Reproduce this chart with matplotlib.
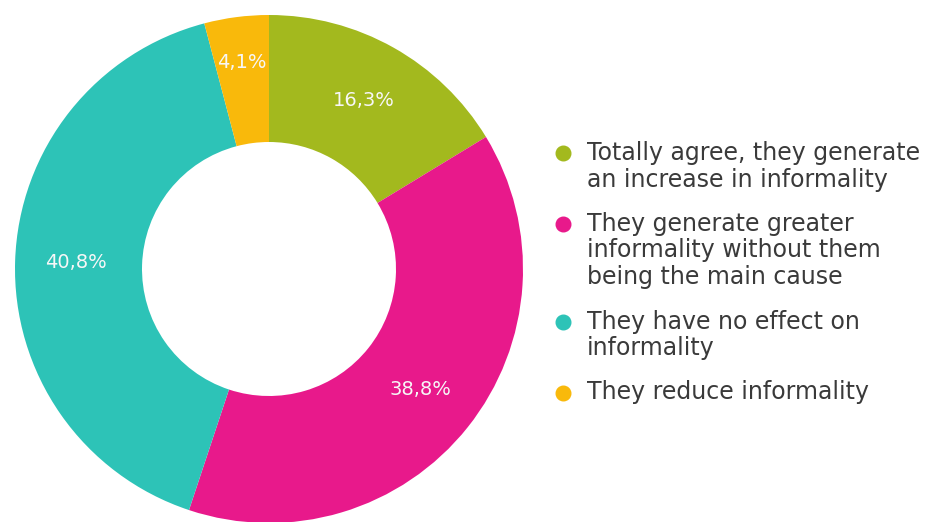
import numpy as np
import matplotlib
matplotlib.use("Agg")
import matplotlib.pyplot as plt
from matplotlib.lines import Line2D

# Respuestas a la pregunta sobre informalidad
etiquetas = [
    "Totally agree, they generate\nan increase in informality",
    "They generate greater\ninformality without them\nbeing the main cause",
    "They have no effect on\ninformality",
    "They reduce informality",
]
porcentajes = [16.3, 38.8, 40.8, 4.1]
textos_pct = ["16,3%", "38,8%", "40,8%", "4,1%"]
colores = ["#A3B91E", "#E8198B", "#2DC3B7", "#F9B90B"]

W, H = 926, 522
fig = plt.figure(figsize=(W / 100, H / 100), dpi=100)
fig.patch.set_facecolor("white")

# Dona: centro (269, 269) px, radio 254 px
cx, cy, r = 269, 269, 254
ax = fig.add_axes([(cx - r) / W, (H - cy - r) / H, 2 * r / W, 2 * r / H])
wedges, _ = ax.pie(porcentajes, colors=colores, startangle=90, counterclock=False,
                   radius=1.0, wedgeprops=dict(width=0.5, linewidth=0))
ax.set_xlim(-1, 1)
ax.set_ylim(-1, 1)
ax.set_aspect("equal")
ax.axis("off")

# Etiquetas de porcentaje en el anillo (la rebanada chica va un poco mas afuera)
for w, txt, p in zip(wedges, textos_pct, porcentajes):
    ang = np.deg2rad((w.theta1 + w.theta2) / 2)
    dist = 0.82 if p < 5 else 0.76
    ax.text(dist * np.cos(ang), dist * np.sin(ang), txt, ha="center", va="center",
            fontsize=14, color="#f7f7f7", family="DejaVu Sans")

# Leyenda dibujada a mano
y = 153
paso = 26.5
for lab, col in zip(etiquetas, colores):
    lineas = lab.split("\n")
    fig.add_artist(Line2D([563 / W], [1 - y / H], marker="o", markersize=10.5,
                          color=col, linestyle="none", transform=fig.transFigure))
    for i, ln in enumerate(lineas):
        fig.text(587 / W, 1 - (y + i * paso) / H, ln, ha="left", va="center",
                 fontsize=17, color="#3a3a3a", family="DejaVu Sans")
    y += (len(lineas) - 1) * paso + 44.5

fig.savefig("out.png", dpi=100, facecolor="white")
